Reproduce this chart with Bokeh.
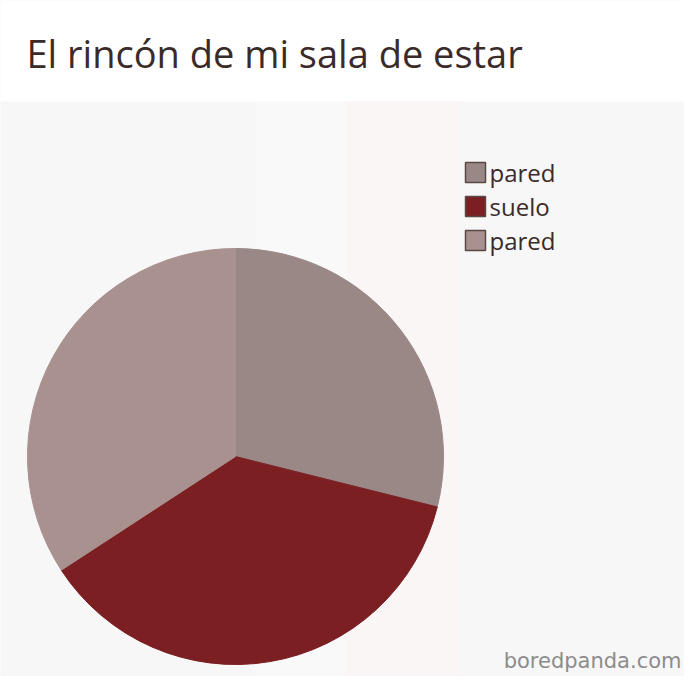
import numpy as np
from bokeh.plotting import figure
from bokeh.models import ColumnDataSource
from bokeh.embed import file_html
from bokeh.resources import INLINE
from bokeh.core.properties import value

# ---- data ----
title_text = "El rincón de mi sala de estar"
labels = ["pared", "suelo", "pared"]
values = [28.9, 36.9, 34.2]
colors = ["#9a8886", "#7b1f22", "#a9918f"]
watermark = "boredpanda.com"

W, H = 684, 676

def fy(screen_y):
    return H - screen_y

def fx(screen_x):
    return screen_x

p = figure(width=W, height=H, x_range=(0, W), y_range=(0, H),
           output_backend="svg", toolbar_location=None,
           min_border=0, outline_line_color=None,
           background_fill_color="#f7f7f7", border_fill_color="#ffffff")
p.axis.visible = False
p.grid.visible = False

# header band (white)
p.quad(left=[0], right=[W], bottom=[fy(101)], top=[H],
       fill_color="#ffffff", line_color=None)
# faint background bands
p.quad(left=[fx(255)], right=[fx(345)], bottom=[0], top=[fy(101)],
       fill_color="#f9f9fa", line_color=None)
p.quad(left=[fx(345)], right=[fx(460)], bottom=[0], top=[fy(101)],
       fill_color="#faf6f6", line_color=None)

# pie
vals = np.array(values, dtype=float)
frac = vals / vals.sum()
ends = np.pi / 2 - 2 * np.pi * np.cumsum(frac)
starts = np.concatenate([[np.pi / 2], ends[:-1]])
src = ColumnDataSource(dict(start=ends, end=starts, color=colors, label=labels))
p.wedge(x=fx(235), y=fy(456), radius=208, start_angle="start", end_angle="end",
        fill_color="color", line_color="color", line_width=1, source=src)

# legend
for i, (lab, col) in enumerate(zip(labels, colors)):
    sy = 172 + i * 34
    p.rect(x=[fx(475)], y=[fy(sy)], width=20, height=20,
           fill_color=col, line_color="#5a4846", line_width=1.5)
    p.text(x=[fx(489)], y=[fy(sy)], text=[lab], text_font=value("Open Sans"),
           text_font_size="24px", text_color="#3a2a28",
           text_baseline="middle", text_align="left")

# title
p.text(x=[fx(26)], y=[fy(52)], text=[title_text], text_font=value("Open Sans"),
       text_font_size="38px", text_color="#3b2b28",
       text_baseline="middle", text_align="left")

# watermark
p.text(x=[fx(681)], y=[fy(660)], text=[watermark], text_font=value("DejaVu Sans"),
       text_font_size="21px", text_color="#8c8c8c",
       text_baseline="middle", text_align="right")

open("out.html", "w").write(file_html(p, INLINE))
